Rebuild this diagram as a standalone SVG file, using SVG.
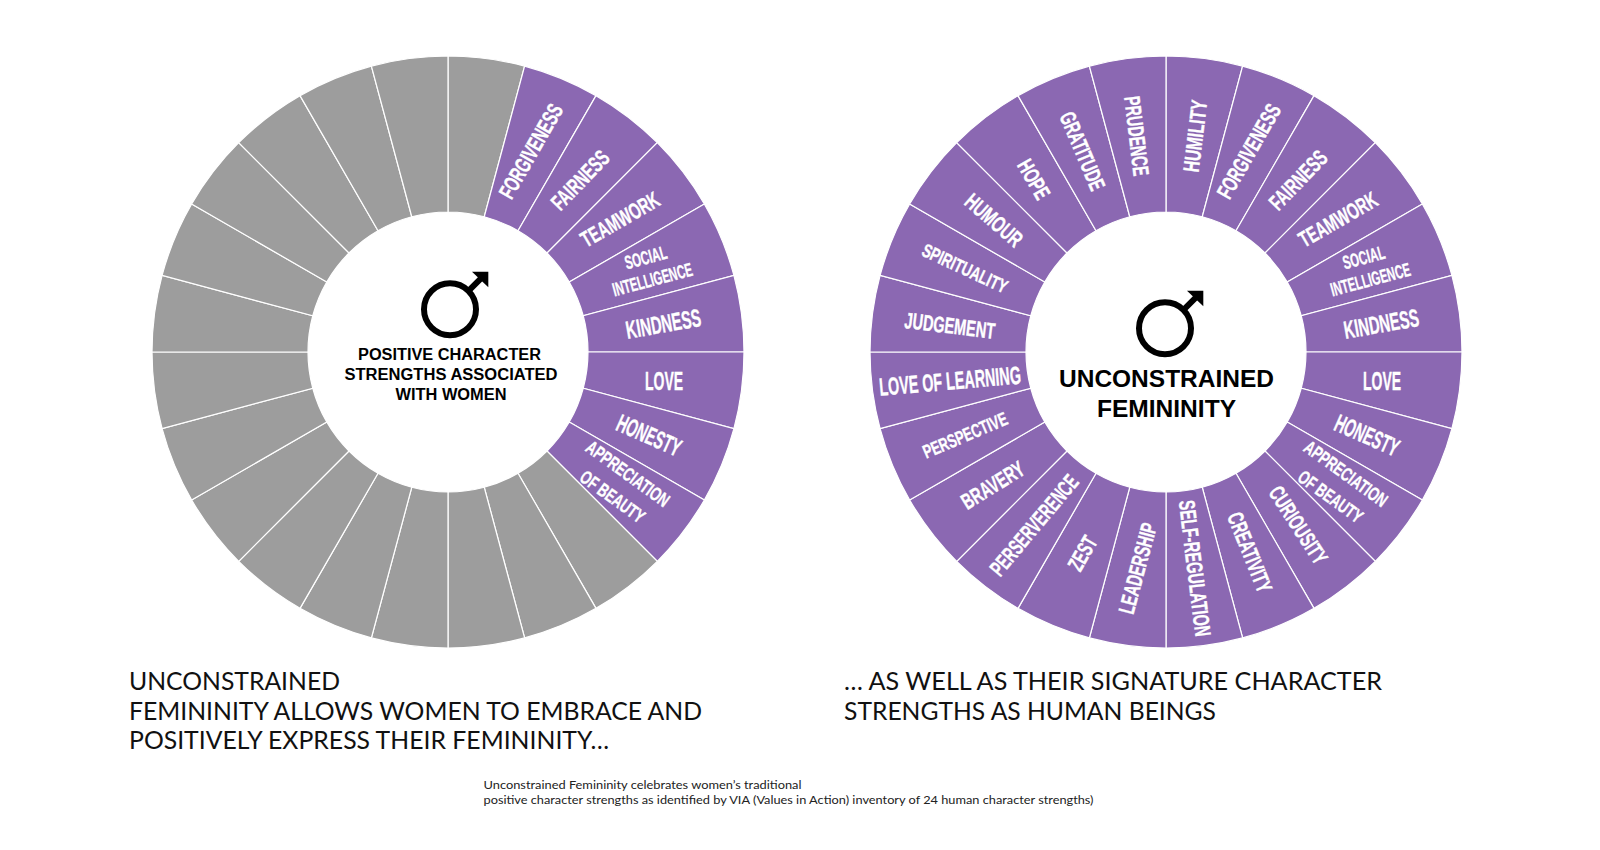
<svg xmlns="http://www.w3.org/2000/svg" xmlns:xlink="http://www.w3.org/1999/xlink" width="1600" height="850" viewBox="0 0 1600 850">
<style>
.p{fill:#8B68B2;stroke:#fff;stroke-width:1.2}
.g{fill:#9D9D9D;stroke:#fff;stroke-width:1.2}
.l{font-family:"Liberation Sans",Arial,sans-serif;font-weight:700;fill:#fff;stroke:#fff;stroke-width:.35;text-anchor:middle}
.a{font-size:19px}.b{font-size:22.5px}.c{font-size:25px}
.m{font-family:"Liberation Sans",Arial,sans-serif;font-weight:700;fill:#000;text-anchor:middle}
.h{font-family:Lato,"Open Sans",sans-serif;font-size:25px;fill:#111}
.f{font-family:Lato,"Open Sans",sans-serif;font-size:12px;fill:#222}
</style>
<defs>
<path id="s" d="M0,-296 A296,296 0 0 1 76.61,-285.91 L36.23,-135.23 A140,140 0 0 0 0,-140 Z"/>
<g id="sym">
<circle cx="0" cy="0" r="26" fill="none" stroke="#000" stroke-width="6"/>
<path d="M18,-18 L31,-31" fill="none" stroke="#000" stroke-width="6"/>
<path d="M22,-37.6 H38.3 V-22 Z" fill="#000"/>
</g>
</defs>
<rect width="1600" height="850" fill="#fff"/>
<g id="wheel-left">
<g id="l0"><use href="#s" class="g" transform="translate(448 352)"/></g>
<g id="l1"><use href="#s" class="p" transform="translate(448 352) rotate(15)"/><text class="l b" transform="translate(530.7 151) rotate(-60)" y="8" textLength="105" lengthAdjust="spacingAndGlyphs">FORGIVENESS</text></g>
<g id="l2"><use href="#s" class="p" transform="translate(448 352) rotate(30)"/><text class="l b" transform="translate(580 180) rotate(-46)" y="8" textLength="73" lengthAdjust="spacingAndGlyphs">FAIRNESS</text></g>
<g id="l3"><use href="#s" class="p" transform="translate(448 352) rotate(45)"/><text class="l b" transform="translate(620 219.3) rotate(-30)" y="8" textLength="87" lengthAdjust="spacingAndGlyphs">TEAMWORK</text></g>
<g id="l4"><use href="#s" class="p" transform="translate(448 352) rotate(60)"/><text class="l a" transform="translate(645.7 257.3) rotate(-15)" y="6.8" textLength="43" lengthAdjust="spacingAndGlyphs">SOCIAL</text><text class="l a" transform="translate(652.3 279.3) rotate(-15)" y="6.8" textLength="82" lengthAdjust="spacingAndGlyphs">INTELLIGENCE</text></g>
<g id="l5"><use href="#s" class="p" transform="translate(448 352) rotate(75)"/><text class="l c" transform="translate(663.3 323.5) rotate(-10)" y="9" textLength="76" lengthAdjust="spacingAndGlyphs">KINDNESS</text></g>
<g id="l6"><use href="#s" class="p" transform="translate(448 352) rotate(90)"/><text class="l c" transform="translate(664 380.7)" y="9" textLength="38" lengthAdjust="spacingAndGlyphs">LOVE</text></g>
<g id="l7"><use href="#s" class="p" transform="translate(448 352) rotate(105)"/><text class="l c" transform="translate(649.3 435) rotate(24)" y="9" textLength="68" lengthAdjust="spacingAndGlyphs">HONESTY</text></g>
<g id="l8"><use href="#s" class="p" transform="translate(448 352) rotate(120)"/><text class="l a" transform="translate(628 473.5) rotate(36)" y="6.8" textLength="98" lengthAdjust="spacingAndGlyphs">APPRECIATION</text><text class="l a" transform="translate(612.7 496.5) rotate(36)" y="6.8" textLength="75" lengthAdjust="spacingAndGlyphs">OF BEAUTY</text></g>
<use href="#s" class="g" transform="translate(448 352) rotate(135)"/>
<use href="#s" class="g" transform="translate(448 352) rotate(150)"/>
<use href="#s" class="g" transform="translate(448 352) rotate(165)"/>
<use href="#s" class="g" transform="translate(448 352) rotate(180)"/>
<use href="#s" class="g" transform="translate(448 352) rotate(195)"/>
<use href="#s" class="g" transform="translate(448 352) rotate(210)"/>
<use href="#s" class="g" transform="translate(448 352) rotate(225)"/>
<use href="#s" class="g" transform="translate(448 352) rotate(240)"/>
<use href="#s" class="g" transform="translate(448 352) rotate(255)"/>
<use href="#s" class="g" transform="translate(448 352) rotate(270)"/>
<use href="#s" class="g" transform="translate(448 352) rotate(285)"/>
<use href="#s" class="g" transform="translate(448 352) rotate(300)"/>
<use href="#s" class="g" transform="translate(448 352) rotate(315)"/>
<use href="#s" class="g" transform="translate(448 352) rotate(330)"/>
<use href="#s" class="g" transform="translate(448 352) rotate(345)"/>
</g>
<g id="center-left">
<use href="#sym" transform="translate(450 309.3)"/>
<text class="m" x="449.5" y="360" font-size="16" textLength="183" lengthAdjust="spacingAndGlyphs">POSITIVE CHARACTER</text>
<text class="m" x="451" y="380" font-size="16" textLength="213" lengthAdjust="spacingAndGlyphs">STRENGTHS ASSOCIATED</text>
<text class="m" x="451" y="399.5" font-size="16" textLength="111" lengthAdjust="spacingAndGlyphs">WITH WOMEN</text>
</g>
<g id="wheel-right">
<g id="r0"><use href="#s" class="p" transform="translate(1166 352)"/><text class="l b" transform="translate(1195 136) rotate(-83)" y="8" textLength="72" lengthAdjust="spacingAndGlyphs">HUMILITY</text></g>
<g id="r1"><use href="#s" class="p" transform="translate(1166 352) rotate(15)"/><text class="l b" transform="translate(1248.7 151) rotate(-60)" y="8" textLength="105" lengthAdjust="spacingAndGlyphs">FORGIVENESS</text></g>
<g id="r2"><use href="#s" class="p" transform="translate(1166 352) rotate(30)"/><text class="l b" transform="translate(1298 180) rotate(-46)" y="8" textLength="73" lengthAdjust="spacingAndGlyphs">FAIRNESS</text></g>
<g id="r3"><use href="#s" class="p" transform="translate(1166 352) rotate(45)"/><text class="l b" transform="translate(1338 219.3) rotate(-30)" y="8" textLength="87" lengthAdjust="spacingAndGlyphs">TEAMWORK</text></g>
<g id="r4"><use href="#s" class="p" transform="translate(1166 352) rotate(60)"/><text class="l a" transform="translate(1363.7 257.3) rotate(-15)" y="6.8" textLength="43" lengthAdjust="spacingAndGlyphs">SOCIAL</text><text class="l a" transform="translate(1370.3 279.3) rotate(-15)" y="6.8" textLength="82" lengthAdjust="spacingAndGlyphs">INTELLIGENCE</text></g>
<g id="r5"><use href="#s" class="p" transform="translate(1166 352) rotate(75)"/><text class="l c" transform="translate(1381.3 323.5) rotate(-10)" y="9" textLength="76" lengthAdjust="spacingAndGlyphs">KINDNESS</text></g>
<g id="r6"><use href="#s" class="p" transform="translate(1166 352) rotate(90)"/><text class="l c" transform="translate(1382 380.7)" y="9" textLength="38" lengthAdjust="spacingAndGlyphs">LOVE</text></g>
<g id="r7"><use href="#s" class="p" transform="translate(1166 352) rotate(105)"/><text class="l c" transform="translate(1367.3 435) rotate(24)" y="9" textLength="68" lengthAdjust="spacingAndGlyphs">HONESTY</text></g>
<g id="r8"><use href="#s" class="p" transform="translate(1166 352) rotate(120)"/><text class="l a" transform="translate(1346 473.5) rotate(36)" y="6.8" textLength="98" lengthAdjust="spacingAndGlyphs">APPRECIATION</text><text class="l a" transform="translate(1330.7 496.5) rotate(36)" y="6.8" textLength="75" lengthAdjust="spacingAndGlyphs">OF BEAUTY</text></g>
<g id="r9"><use href="#s" class="p" transform="translate(1166 352) rotate(135)"/><text class="l b" transform="translate(1298.5 525) rotate(57)" y="8" textLength="88" lengthAdjust="spacingAndGlyphs">CURIOUSITY</text></g>
<g id="r10"><use href="#s" class="p" transform="translate(1166 352) rotate(150)"/><text class="l b" transform="translate(1250 552.3) rotate(68)" y="8" textLength="84" lengthAdjust="spacingAndGlyphs">CREATIVITY</text></g>
<g id="r11"><use href="#s" class="p" transform="translate(1166 352) rotate(165)"/><text class="l b" transform="translate(1195 568.3) rotate(83)" y="8" textLength="137" lengthAdjust="spacingAndGlyphs">SELF-REGULATION</text></g>
<g id="r12"><use href="#s" class="p" transform="translate(1166 352) rotate(180)"/><text class="l b" transform="translate(1138 568.3) rotate(-75)" y="7.5" textLength="93" lengthAdjust="spacingAndGlyphs">LEADERSHIP</text></g>
<g id="r13"><use href="#s" class="p" transform="translate(1166 352) rotate(195)"/><text class="l b" transform="translate(1082.7 553.3) rotate(-60)" y="7.5" textLength="36" lengthAdjust="spacingAndGlyphs">ZEST</text></g>
<g id="r14"><use href="#s" class="p" transform="translate(1166 352) rotate(210)"/><text class="l b" transform="translate(1034 525) rotate(-50)" y="8" textLength="124" lengthAdjust="spacingAndGlyphs">PERSERVERENCE</text></g>
<g id="r15"><use href="#s" class="p" transform="translate(1166 352) rotate(225)"/><text class="l b" transform="translate(992.7 485) rotate(-32)" y="8" textLength="70" lengthAdjust="spacingAndGlyphs">BRAVERY</text></g>
<g id="r16"><use href="#s" class="p" transform="translate(1166 352) rotate(240)"/><text class="l a" transform="translate(965 435) rotate(-23)" y="6.8" textLength="90" lengthAdjust="spacingAndGlyphs">PERSPECTIVE</text></g>
<g id="r17"><use href="#s" class="p" transform="translate(1166 352) rotate(255)"/><text class="l c" transform="translate(950 380.7) rotate(-5)" y="9" textLength="142" lengthAdjust="spacingAndGlyphs">LOVE OF LEARNING</text></g>
<g id="r18"><use href="#s" class="p" transform="translate(1166 352) rotate(270)"/><text class="l b" transform="translate(950 325) rotate(7)" y="8.5" textLength="91" lengthAdjust="spacingAndGlyphs">JUDGEMENT</text></g>
<g id="r19"><use href="#s" class="p" transform="translate(1166 352) rotate(285)"/><text class="l a" transform="translate(965 268.3) rotate(25)" y="6.8" textLength="92" lengthAdjust="spacingAndGlyphs">SPIRITUALITY</text></g>
<g id="r20"><use href="#s" class="p" transform="translate(1166 352) rotate(300)"/><text class="l b" transform="translate(994 220) rotate(41)" y="8" textLength="68" lengthAdjust="spacingAndGlyphs">HUMOUR</text></g>
<g id="r21"><use href="#s" class="p" transform="translate(1166 352) rotate(315)"/><text class="l b" transform="translate(1034 179.3) rotate(60)" y="8" textLength="42" lengthAdjust="spacingAndGlyphs">HOPE</text></g>
<g id="r22"><use href="#s" class="p" transform="translate(1166 352) rotate(330)"/><text class="l b" transform="translate(1082.7 151) rotate(67)" y="8" textLength="83" lengthAdjust="spacingAndGlyphs">GRATITUDE</text></g>
<g id="r23"><use href="#s" class="p" transform="translate(1166 352) rotate(345)"/><text class="l b" transform="translate(1137.3 136) rotate(83)" y="8.5" textLength="80" lengthAdjust="spacingAndGlyphs">PRUDENCE</text></g>
</g>
<g id="center-right">
<use href="#sym" transform="translate(1165 328.3)"/>
<text class="m" x="1166.5" y="386.5" font-size="24" textLength="215" lengthAdjust="spacingAndGlyphs">UNCONSTRAINED</text>
<text class="m" x="1166.5" y="416.5" font-size="24" textLength="139" lengthAdjust="spacingAndGlyphs">FEMININITY</text>
</g>
<g id="captions">
<text class="h" x="129" y="690" textLength="211" lengthAdjust="spacingAndGlyphs">UNCONSTRAINED</text>
<text class="h" x="129" y="719.5" textLength="573" lengthAdjust="spacingAndGlyphs">FEMININITY ALLOWS WOMEN TO EMBRACE AND</text>
<text class="h" x="129" y="749" textLength="480" lengthAdjust="spacingAndGlyphs">POSITIVELY EXPRESS THEIR FEMININITY…</text>
<text class="h" x="844" y="690" textLength="538" lengthAdjust="spacingAndGlyphs">… AS WELL AS THEIR SIGNATURE CHARACTER</text>
<text class="h" x="844" y="719.5" textLength="372" lengthAdjust="spacingAndGlyphs">STRENGTHS AS HUMAN BEINGS</text>
<text class="f" x="483.5" y="789" textLength="318" lengthAdjust="spacingAndGlyphs">Unconstrained Femininity celebrates women’s traditional</text>
<text class="f" x="483.5" y="803.5" textLength="610" lengthAdjust="spacingAndGlyphs">positive character strengths as identified by VIA (Values in Action) inventory of 24 human character strengths)</text>
</g>
</svg>
